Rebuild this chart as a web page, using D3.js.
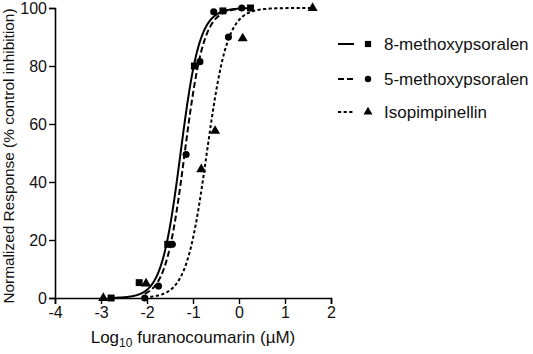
<!DOCTYPE html>
<html><head><meta charset="utf-8">
<script src="https://cdn.jsdelivr.net/npm/d3@7"></script>
<style>
html,body{margin:0;padding:0;background:#fff;}
svg{display:block;font-family:"Liberation Sans",Arial,sans-serif;}
</style></head>
<body><svg id="c" width="533" height="354"></svg>
<script>
// ---- data ----
const seriesNames = ["8-methoxypsoralen", "5-methoxypsoralen", "Isopimpinellin"];
const x8mop = [-2.78, -2.17, -1.55, -0.97, -0.35, 0.25];
const y8mop = [0, 5.3, 18.5, 80, 99, 100];
const x5mop = [-2.05, -1.75, -1.45, -1.15, -0.85, -0.55, -0.23, 0.06];
const y5mop = [0, 4.1, 18.5, 49.5, 81.5, 98.7, 90, 100];
const xIso = [-2.95, -2.02, -0.82, -0.52, 0.08, 1.6];
const yIso = [0, 5, 44.4, 57.6, 89.5, 100];
// fitted sigmoid parameters (logEC50, Hill slope, x-range of drawn curve)
const logEC50 = [-1.27, -1.18, -0.70];
const hillSlope = [2.1, 2.1, 1.95];
const curveStart = [-2.8, -2.05, -2.05];
const curveEnd = [0.3, 0.3, 1.6];
const xTicks = [-4, -3, -2, -1, 0, 1, 2];
const yTicks = [0, 20, 40, 60, 80, 100];

const svg = d3.select("#c");
const x = d3.scaleLinear().domain([-4, 2]).range([55, 331]);
const y = d3.scaleLinear().domain([0, 100]).range([298, 8]);

const dashes = [null, "6,3", "3.2,2.4"];
const xs = [x8mop, x5mop, xIso], ys = [y8mop, y5mop, yIso];
const shapes = [d3.symbolSquare, d3.symbolCircle, d3.symbolTriangle];
const sizes = [48, 40, 44];

// axes
const xAxis = svg.append("g").attr("transform", "translate(0,298)")
  .call(d3.axisBottom(x).tickValues(xTicks).tickSize(6).tickPadding(3).tickFormat(d3.format("d")));
const yAxis = svg.append("g").attr("transform", "translate(55,0)")
  .call(d3.axisLeft(y).tickValues(yTicks).tickSize(6).tickPadding(2));
[xAxis, yAxis].forEach(a => {
  a.select(".domain").attr("stroke", "#000").attr("stroke-width", 1.6);
  a.selectAll(".tick line").attr("stroke", "#000").attr("stroke-width", 1.4);
  a.selectAll(".tick text").attr("fill", "#111").style("font-size", "16px").style("font-family", "'Liberation Sans',Arial,sans-serif");
});
xAxis.selectAll(".tick text").text(d => d < 0 ? "-" + Math.abs(d) : d);

// curves
const line = d3.line().x(d => x(d[0])).y(d => y(d[1]));
for (let i = 0; i < 3; i++) {
  const pts = d3.range(curveStart[i], curveEnd[i] + 1e-9, 0.01).concat([curveEnd[i]])
    .map(v => [v, 100 / (1 + Math.pow(10, (logEC50[i] - v) * hillSlope[i]))]);
  svg.append("path").datum(pts).attr("d", line)
    .attr("fill", "none").attr("stroke", "#000").attr("stroke-width", 2)
    .attr("stroke-dasharray", dashes[i]);
}
// points
for (let i = 0; i < 3; i++) {
  svg.append("g").selectAll("path").data(xs[i].map((v, k) => [v, ys[i][k]])).join("path")
    .attr("transform", d => `translate(${x(d[0])},${y(d[1])})`)
    .attr("d", d3.symbol().type(shapes[i]).size(sizes[i]))
    .attr("fill", "#000");
}

// axis titles
svg.append("text").attr("transform", "translate(14,156) rotate(-90)")
  .attr("text-anchor", "middle").attr("fill", "#111").style("font-size", "15.4px")
  .text("Normalized Response (% control inhibition)");
const xt = svg.append("text").attr("x", 193).attr("y", 343).attr("text-anchor", "middle")
  .attr("fill", "#111").style("font-size", "17px");
xt.append("tspan").text("Log");
xt.append("tspan").attr("dy", 4).style("font-size", "12px").text("10");
xt.append("tspan").attr("dy", -4).text(" furanocoumarin (µM)");

// legend
const lg = svg.append("g");
const rowsY = [44, 79, 112];
for (let i = 0; i < 3; i++) {
  lg.append("line").attr("x1", 338).attr("x2", 354).attr("y1", rowsY[i]).attr("y2", rowsY[i])
    .attr("stroke", "#000").attr("stroke-width", 2).attr("stroke-dasharray", dashes[i]);
  lg.append("path").attr("transform", `translate(368,${rowsY[i]})`)
    .attr("d", d3.symbol().type(shapes[i]).size(sizes[i] * 0.8)).attr("fill", "#000");
  lg.append("text").attr("x", 384).attr("y", rowsY[i]).attr("dy", "0.36em")
    .attr("fill", "#111").style("font-size", "17px").text(seriesNames[i]);
}
</script></body></html>
